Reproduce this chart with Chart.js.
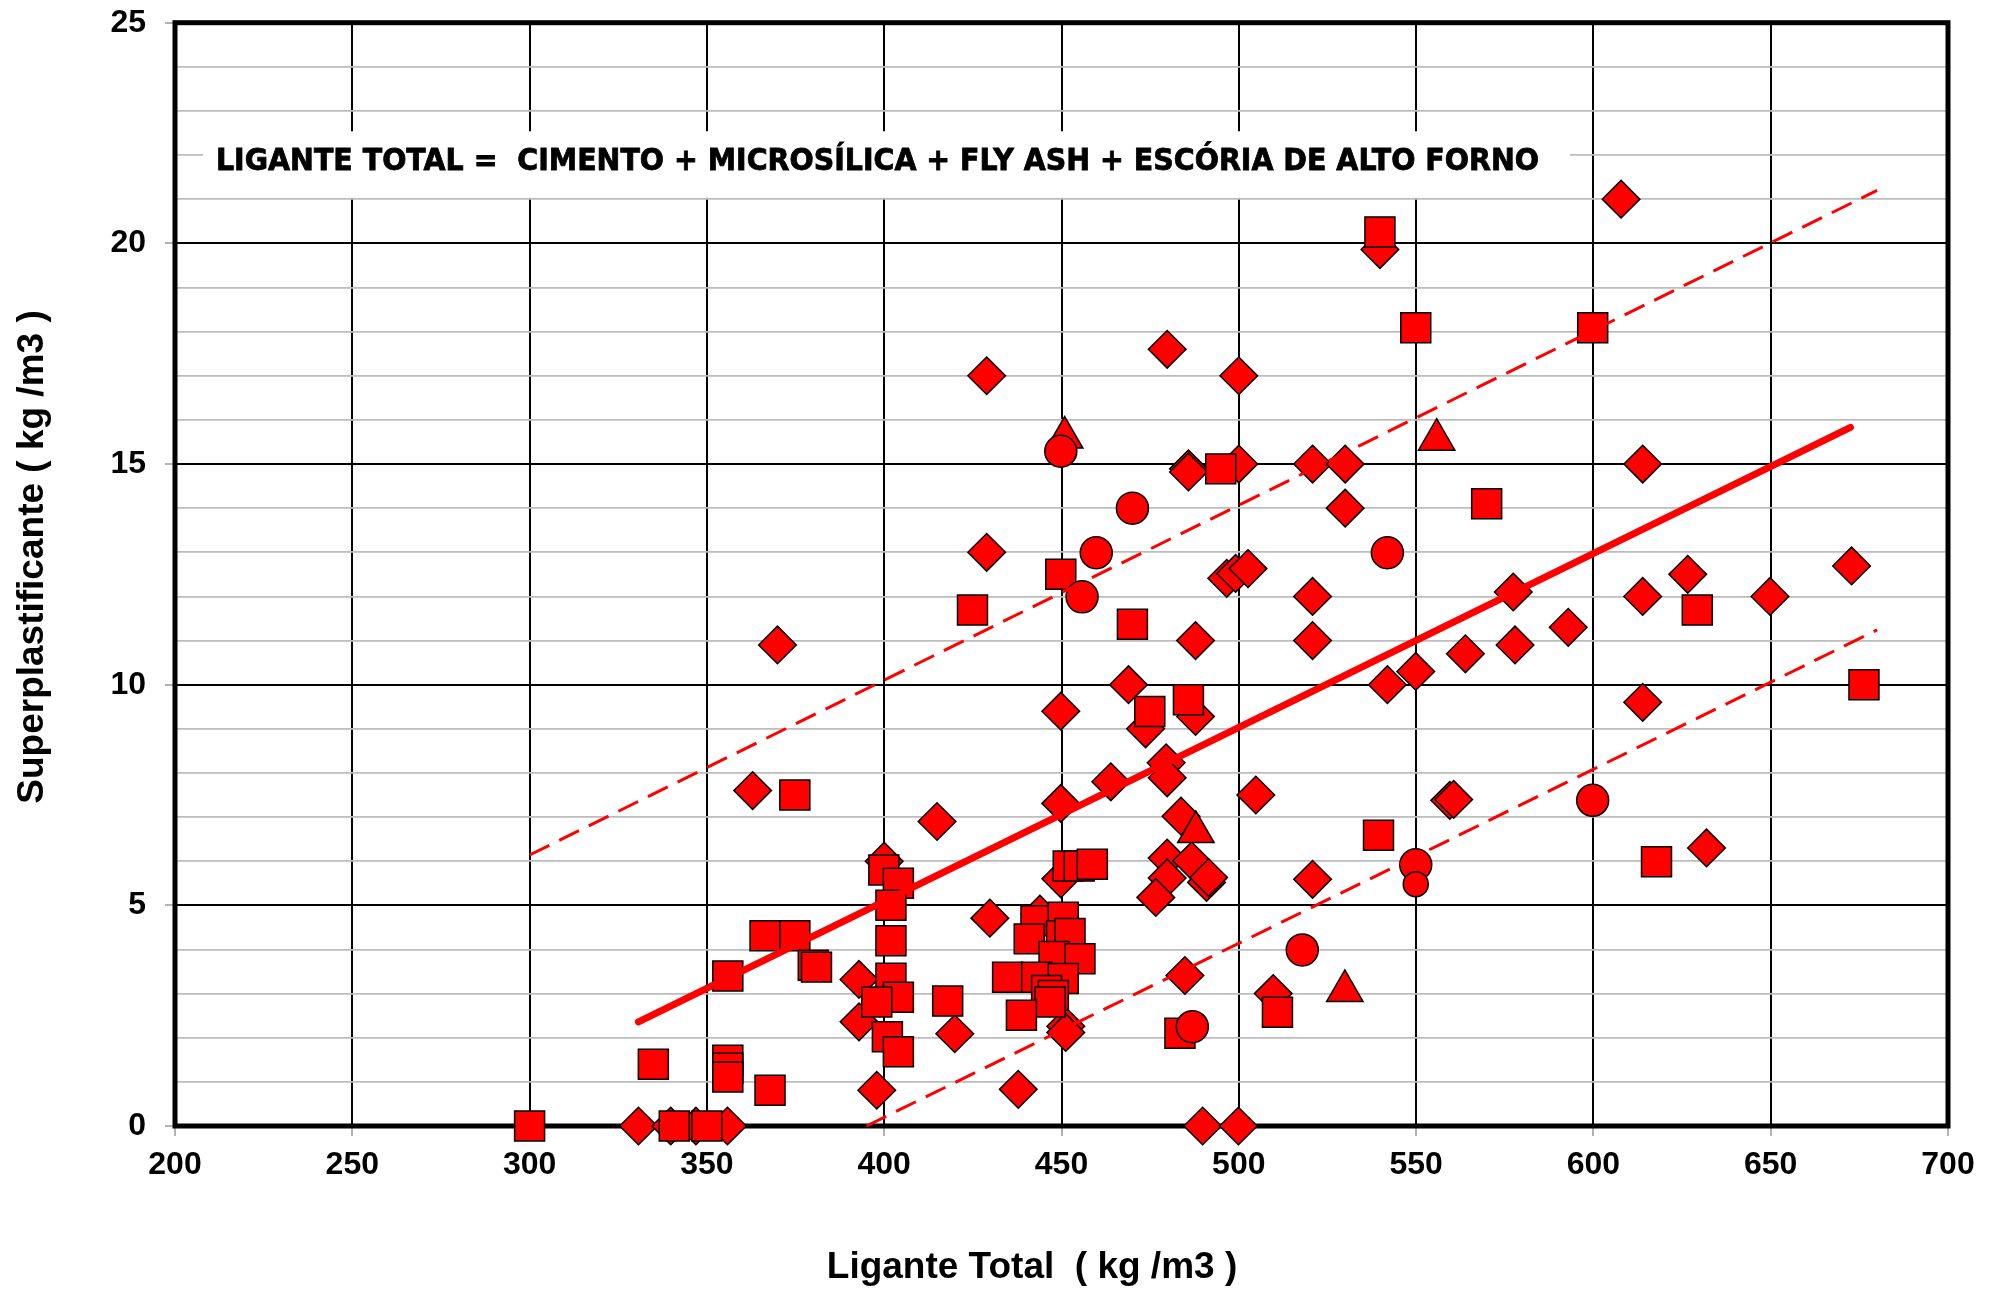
<!DOCTYPE html>
<html>
<head>
<meta charset="utf-8">
<script src="https://cdn.jsdelivr.net/npm/chart.js@4.4.1/dist/chart.umd.min.js"></script>
<style>
  html, body { margin: 0; padding: 0; background: #fff; }
  canvas { display: block; }
</style>
</head>
<body>
<canvas id="c" width="1999" height="1290"></canvas>
<script>
// ---------- DATA (Ligante Total, Superplastificante) ----------
const diamonds = [
  [607.8,21.0],[539.8,19.86],[479.8,17.6],[428.9,17.0],[500,17.0],
  [485.8,14.89],[485.8,14.82],[500,15.0],[520.8,15.0],[530.0,15.0],[613.9,15.0],
  [530,14.0],[428.9,13.0],[496.6,12.41],[499.1,12.52],[502.6,12.63],
  [520.8,12.0],[613.9,12.0],[626.6,12.5],[649.8,12.0],[672.8,12.69],
  [577.4,12.1],[592.9,11.3],[577.9,10.9],[520.8,11.0],[487.8,11.0],[369.9,10.9],
  [549.9,10.3],[563.9,10.7],[541.9,10.0],[468.9,10.0],[613.9,9.6],
  [449.8,9.4],[473.7,9.0],[487.8,9.28],[479.5,8.23],[479.8,7.89],[463.9,7.8],
  [362.9,7.6],[414.9,6.9],[449.8,7.31],[504.8,7.5],[559.5,7.38],[560.6,7.4],
  [483.7,7.02],[631.9,6.3],[400,6.0],[479.8,6.07],[486.7,6.01],
  [479.8,5.62],[490.9,5.52],[491.5,5.63],[520.8,5.59],[449.8,5.6],[476.6,5.18],
  [429.8,4.71],[443.9,4.8],[392.9,3.32],[392.9,2.36],[419.9,2.09],
  [451.2,2.26],[451.2,2.12],[484.8,3.41],[509.7,3.0],[397.9,0.81],[437.8,0.83],
  [330.7,0],[339.8,0],[346.9,0],[355.8,0],[489.8,0],[499.9,0]
];
const squares = [
  [539.8,20.26],[549.9,18.09],[599.8,18.09],[494.9,14.89],[569.9,14.1],
  [449.8,12.5],[424.9,11.69],[470,11.37],[629.3,11.69],[676.3,10.0],
  [474.9,9.39],[485.8,9.66],[374.8,7.5],[539.4,6.59],[617.8,5.99],
  [451.9,5.89],[455.0,5.89],[458.7,5.93],[399.9,5.8],[404,5.5],[401.9,5.0],
  [401.9,4.2],[366.4,4.31],[374.8,4.31],[380,3.64],[380.9,3.6],[355.9,3.4],
  [401.9,3.35],[404,2.92],[397.9,2.81],[417.9,2.83],[400.9,2.02],[404,1.68],
  [334.9,1.40],[355.9,1.49],[355.9,1.31],[355.9,1.11],[367.8,0.81],
  [300,0],[340.8,0],[350,0],[483.4,2.10],[510.9,2.58],
  [442.8,4.65],[450.5,4.73],[440.9,4.24],[450.0,4.31],[452.4,4.36],
  [447.9,3.84],[455.2,3.79],[434.8,3.37],[443,3.37],[450.5,3.34],
  [445.8,3.07],[447.7,2.96],[446.8,2.81],[438.7,2.51]
];
const circles = [
  [449.8,15.29],[470,14.0],[459.8,12.99],[455.8,11.99],[541.9,12.99],
  [599.8,7.38],[549.9,5.92],[517.9,3.99],[486.9,2.25]
];
const circlesSmall = [[549.9,5.48]];
const triangles = [[450.9,15.6],[555.8,15.55],[487.9,6.66],[529.9,3.06]];

// trend line and +/- band (end points)
const trendLine = [[330.7,2.36],[672.5,15.83]];
const upperBand = [[300,6.14],[680,21.2]];
const lowerBand = [[395,0],[680,11.24]];

// axes
const xRange = [200, 700];
const xStep = 50;
const yRange = [0, 25];
const yMinorStep = 1;
const yMajorStep = 5;

// texts
const xTitle = 'Ligante Total  ( kg /m3 )';
const yTitle = 'Superplastificante ( kg /m3 )';
const noteText = 'LIGANTE TOTAL =  CIMENTO + MICROSÍLICA + FLY ASH + ESCÓRIA DE ALTO FORNO';

// ---------- helpers ----------
const toXY = arr => arr.map(p => ({x: p[0], y: p[1]}));
const RED = '#ff0000';
const FONT = '"Liberation Sans", Arial, sans-serif';

function markerSet(label, data, style, radius) {
  return {
    type: 'scatter', label, data: toXY(data),
    pointStyle: style, pointRadius: radius, pointHoverRadius: radius,
    backgroundColor: RED, borderColor: '#000', borderWidth: 1.5,
    clip: false
  };
}
function lineSet(label, data, width, dash) {
  return {
    type: 'line', label, data: toXY(data),
    borderColor: RED, borderWidth: width, borderDash: dash,
    borderCapStyle: dash.length ? 'butt' : 'round',
    pointRadius: 0, fill: false, showLine: true, order: 0, clip: false
  };
}

const decor = {
  id: 'decor',
  beforeDatasetsDraw(chart) {
    const {ctx, chartArea: a, scales: {x, y}} = chart;
    // annotation box
    const bx0 = x.getPixelForValue(207.9), bx1 = x.getPixelForValue(593.4);
    const by0 = y.getPixelForValue(22.54), by1 = y.getPixelForValue(21.03);
    ctx.save();
    ctx.fillStyle = '#fff';
    ctx.fillRect(bx0, by0, bx1 - bx0, by1 - by0);
    ctx.font = 'bold 30px "DejaVu Sans", sans-serif';
    const w = ctx.measureText(noteText).width;
    const cx = x.getPixelForValue(398.1), cy = y.getPixelForValue(21.84);
    ctx.translate(cx, cy);
    ctx.scale(1323 / w, 1);
    ctx.textAlign = 'center';
    ctx.textBaseline = 'middle';
    ctx.fillStyle = '#000';
    ctx.strokeStyle = '#000';
    ctx.lineWidth = 0.8;
    ctx.fillText(noteText, 0, 0);
    ctx.strokeText(noteText, 0, 0);
    ctx.restore();
    // frame
    ctx.save();
    ctx.strokeStyle = '#000';
    ctx.lineWidth = 5;
    ctx.strokeRect(a.left, a.top, a.right - a.left, a.bottom - a.top);
    ctx.restore();
  },
  afterDraw(chart) {
    const {ctx} = chart;
    ctx.save();
    ctx.fillStyle = '#000';
    ctx.font = 'bold 37px ' + FONT;
    ctx.textAlign = 'center';
    ctx.textBaseline = 'alphabetic';
    ctx.fillText(xTitle, 1032, 1278);
    ctx.translate(43, 557);
    ctx.rotate(-Math.PI / 2);
    ctx.fillText(yTitle, 0, 0);
    ctx.restore();
  }
};

const tickFont = {family: FONT, weight: 'bold', size: 32};

new Chart(document.getElementById('c'), {
  data: {
    datasets: [
      lineSet('Tendência', trendLine, 7, []),
      lineSet('Limite superior', upperBand, 3, [22, 11]),
      lineSet('Limite inferior', lowerBand, 3, [22, 11]),
      Object.assign(markerSet('Círculo pequeno', circlesSmall, 'circle', 12.5), {order: 1}),
      Object.assign(markerSet('Círculos', circles, 'circle', 16), {order: 2}),
      Object.assign(markerSet('Quadrados', squares, 'rect', 21.2), {order: 3}),
      Object.assign(markerSet('Triângulos', triangles, 'triangle', 21), {order: 4}),
      Object.assign(markerSet('Losangos', diamonds, 'rectRot', 18.8), {order: 5})
    ]
  },
  options: {
    responsive: false,
    animation: false,
    events: [],
    layout: {padding: {top: 19, right: 51, left: 0, bottom: 0}},
    plugins: {legend: {display: false}, tooltip: {enabled: false}},
    scales: {
      x: {
        type: 'linear', min: xRange[0], max: xRange[1],
        afterFit(s) { s.height = 164; s.paddingLeft = 0; s.paddingRight = 0; },
        ticks: {stepSize: xStep, autoSkip: false, maxRotation: 0, padding: 10, color: '#000', font: tickFont},
        grid: {color: '#000', lineWidth: 2, tickLength: 10, tickColor: '#999', tickWidth: 1.5},
        border: {display: false}
      },
      y: {
        type: 'linear', min: yRange[0], max: yRange[1],
        afterFit(s) { s.width = 175; s.paddingTop = 0; s.paddingBottom = 0; },
        ticks: {
          stepSize: yMinorStep, autoSkip: false, padding: 19, color: '#000', font: tickFont,
          callback: v => (v % yMajorStep === 0 ? String(v) : '')
        },
        grid: {
          color: c => (c.tick && c.tick.value % yMajorStep === 0 ? '#000' : '#bdbdbd'),
          lineWidth: c => (c.tick && c.tick.value % yMajorStep === 0 ? 2 : 1.8),
          tickLength: 10,
          tickColor: c => (c.tick && c.tick.value % yMajorStep === 0 ? '#999' : 'rgba(0,0,0,0)'),
          tickWidth: 1.5
        },
        border: {display: false}
      }
    }
  },
  plugins: [decor]
});
</script>
</body>
</html>
